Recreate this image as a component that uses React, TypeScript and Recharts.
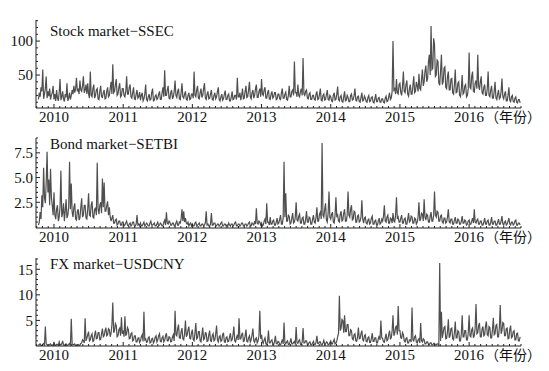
import { LineChart, Line, XAxis, YAxis } from "recharts";

// one value about every 4.5 days, from late 2009 to autumn 2016
const START_YEAR = 2009.775;
const STEP = 0.0125;

// Stock market - SSEC volatility
const ssec = [
  14, 24, 18, 32, 26, 58, 15, 22, 30, 48, 16, 26, 19, 30, 14, 20, 24, 34,
  // 2010
  14, 22, 12, 28, 16, 12, 24, 44, 13, 18, 26, 15, 11, 22, 17, 38, 12, 16, 24, 14,
  20, 28, 22, 34, 24, 30, 46, 26, 30, 22, 42, 28, 26, 34, 48, 24, 28, 36, 22, 38,
  22, 16, 55, 20, 18, 30, 36, 16, 20, 28, 30, 15, 14, 26, 34, 18, 17, 24, 28, 15,
  16, 26, 32, 18, 20, 30, 40, 22, 66, 24, 26, 36, 44, 20, 22, 32, 38, 18, 20, 30,
  // 2011
  30, 20, 18, 26, 48, 22, 22, 32, 36, 18, 16, 24, 32, 15, 14, 22, 28, 16, 18, 25,
  13, 20, 24, 12, 15, 22, 36, 14, 12, 18, 22, 13, 14, 24, 30, 12, 13, 19, 21, 14,
  16, 22, 26, 14, 14, 24, 32, 18, 57, 20, 20, 28, 34, 16, 15, 24, 28, 15, 18, 26,
  42, 20, 17, 26, 30, 15, 14, 24, 38, 18, 16, 22, 26, 14, 13, 20, 24, 14, 15, 22,
  // 2012
  22, 16, 55, 20, 18, 28, 34, 16, 15, 24, 30, 17, 20, 30, 38, 16, 14, 22, 26, 15,
  16, 22, 28, 14, 13, 20, 24, 15, 18, 26, 32, 14, 12, 18, 22, 13, 15, 22, 27, 14,
  14, 20, 22, 12, 12, 18, 26, 14, 15, 20, 20, 14, 46, 18, 18, 24, 13, 20, 30, 15,
  16, 26, 34, 17, 18, 28, 40, 18, 15, 24, 28, 16, 20, 30, 36, 17, 17, 26, 30, 18,
  // 2013
  44, 22, 20, 28, 32, 16, 16, 24, 28, 15, 14, 22, 26, 16, 18, 24, 24, 14, 15, 22,
  22, 15, 14, 24, 30, 16, 16, 22, 25, 14, 13, 20, 34, 18, 18, 26, 28, 20, 70, 24,
  24, 18, 36, 20, 18, 26, 30, 20, 75, 22, 20, 26, 28, 16, 15, 22, 24, 14, 14, 20,
  20, 14, 13, 22, 26, 14, 15, 22, 30, 13, 12, 20, 22, 13, 14, 21, 28, 14, 13, 20,
  // 2014
  18, 12, 11, 20, 24, 13, 14, 22, 33, 14, 12, 18, 20, 11, 10, 18, 26, 12, 13, 20,
  17, 11, 11, 20, 22, 13, 14, 20, 30, 13, 12, 18, 19, 11, 10, 17, 24, 12, 13, 19,
  16, 11, 10, 17, 20, 11, 12, 17, 18, 10, 9, 15, 22, 11, 11, 16, 17, 10, 10, 15,
  15, 10, 9, 16, 19, 11, 12, 18, 24, 14, 16, 26, 100, 28, 30, 22, 44, 24, 22, 36,
  // 2015
  38, 24, 20, 34, 55, 26, 24, 36, 42, 22, 19, 30, 36, 22, 22, 34, 48, 24, 26, 40,
  34, 26, 52, 30, 28, 44, 58, 34, 40, 56, 64, 40, 45, 70, 80, 50, 122, 58, 60, 104,
  95, 48, 50, 72, 70, 38, 35, 56, 80, 36, 40, 60, 62, 32, 30, 48, 55, 28, 28, 44,
  45, 24, 22, 36, 58, 24, 25, 38, 40, 20, 18, 30, 50, 22, 24, 34, 36, 18, 20, 30,
  // 2016
  83, 32, 30, 48, 55, 26, 25, 38, 42, 30, 80, 34, 28, 40, 48, 24, 22, 32, 36, 20,
  20, 30, 55, 20, 18, 28, 34, 16, 16, 26, 40, 16, 14, 22, 28, 15, 17, 26, 45, 18,
  15, 22, 26, 12, 12, 20, 32, 13, 11, 18, 20, 11, 10, 16, 18, 10, 9, 14, 14, 9,
];

// Bond market - SETBI volatility
const setbi = [
  0.2, 0.5, 1.5, 0.8, 3.2, 2.0, 6.0, 3.0, 2.4, 4.5, 7.6, 3.5, 4.8, 2.2, 5.9, 3.0, 2.2, 1.2,
  // 2010
  3.5, 1.2, 0.8, 1.8, 2.2, 0.6, 1.0, 2.0, 5.7, 1.0, 1.4, 2.4, 0.6, 1.6, 2.8, 0.9, 1.2, 2.0, 6.6, 1.8,
  4.4, 1.5, 1.0, 2.0, 2.4, 0.8, 0.7, 1.6, 1.8, 0.7, 0.9, 2.0, 2.9, 1.0, 1.2, 2.2, 2.2, 0.9, 0.8, 1.8,
  3.4, 1.2, 1.1, 2.2, 2.6, 1.0, 0.9, 1.8, 1.9, 1.2, 6.5, 1.8, 1.3, 2.2, 2.5, 1.4, 4.9, 2.0, 4.5, 1.6,
  1.6, 2.2, 2.6, 1.2, 2.0, 1.0, 0.6, 0.9, 1.2, 0.4, 0.4, 0.7, 0.8, 0.2, 0.3, 0.6, 0.6, 0.2, 0.2, 0.5,
  // 2011
  0.5, 0.1, 0.2, 0.4, 0.6, 0.2, 0.1, 0.3, 0.4, 0.1, 0.2, 0.5, 0.5, 0.1, 0.1, 0.3, 1.2, 0.2, 0.3, 0.1,
  0.4, 0.1, 0.1, 0.3, 0.5, 0.1, 0.2, 0.4, 0.3, 0.1, 0.1, 0.4, 0.6, 0.2, 0.2, 0.3, 0.4, 0.1, 0.1, 0.3,
  0.5, 0.1, 0.2, 0.4, 0.3, 0.1, 0.1, 0.5, 0.7, 0.2, 1.5, 0.4, 0.3, 0.6, 0.5, 0.2, 0.2, 0.4, 0.4, 0.1,
  0.1, 0.4, 0.6, 0.2, 0.2, 0.5, 0.4, 0.8, 1.8, 0.6, 1.6, 0.5, 0.9, 0.4, 0.3, 0.5, 0.1, 0.3, 0.4, 0.1,
  // 2012
  0.3, 0.1, 0.1, 0.4, 0.5, 0.1, 0.2, 0.3, 0.4, 0.1, 0.1, 0.3, 0.3, 0.1, 0.2, 0.4, 1.6, 0.2, 0.3, 0.1,
  0.1, 0.3, 1.4, 0.2, 0.2, 0.4, 0.4, 0.1, 0.1, 0.3, 0.3, 0.1, 0.2, 0.4, 0.5, 0.1, 0.1, 0.3, 0.3, 0.1,
  0.2, 0.1, 0.4, 0.2, 0.1, 0.3, 0.3, 0.1, 0.2, 0.4, 0.5, 0.1, 0.1, 0.3, 0.3, 0.1, 0.2, 0.4, 0.4, 0.1,
  0.1, 0.3, 0.3, 0.1, 0.2, 0.4, 0.5, 0.1, 0.1, 0.4, 0.3, 0.2, 0.6, 0.3, 1.9, 0.4, 0.3, 0.6, 0.5, 0.2,
  // 2013
  0.4, 0.1, 0.2, 0.6, 0.8, 0.3, 2.4, 0.5, 0.5, 0.2, 1.0, 0.3, 0.3, 0.6, 0.7, 0.2, 0.2, 0.5, 0.9, 0.3,
  0.4, 0.8, 1.2, 0.3, 0.3, 0.9, 6.6, 1.0, 3.4, 0.6, 0.6, 1.2, 1.1, 0.3, 0.4, 0.9, 1.4, 0.4, 0.5, 1.0,
  2.5, 0.7, 0.6, 1.1, 1.3, 0.4, 0.4, 0.9, 1.0, 0.3, 0.3, 0.8, 1.6, 0.5, 0.5, 1.0, 0.9, 0.3, 0.3, 0.8,
  1.2, 0.5, 0.4, 1.0, 2.0, 0.6, 0.6, 1.3, 1.5, 0.8, 8.5, 1.2, 1.0, 1.8, 2.4, 0.7, 0.5, 1.4, 3.6, 1.0,
  // 2014
  0.8, 1.3, 1.5, 0.5, 0.4, 1.2, 3.0, 1.0, 1.2, 0.6, 0.5, 1.3, 1.6, 0.6, 0.7, 1.4, 1.8, 0.6, 0.6, 1.2,
  3.6, 1.2, 1.0, 1.8, 2.2, 0.7, 0.8, 1.6, 1.5, 0.5, 0.5, 1.1, 1.2, 0.5, 0.6, 1.0, 2.7, 0.8, 0.4, 0.9,
  1.0, 0.4, 0.3, 0.7, 0.8, 0.3, 0.4, 0.9, 1.1, 0.3, 0.3, 0.6, 0.7, 0.2, 0.2, 0.6, 0.9, 0.3, 0.4, 0.8,
  0.6, 1.1, 2.2, 0.6, 0.5, 1.0, 1.2, 0.4, 0.4, 0.9, 0.8, 0.4, 1.4, 0.6, 0.5, 1.2, 3.0, 0.8, 1.0, 0.5,
  // 2015
  0.5, 0.9, 1.2, 0.4, 0.4, 0.8, 0.9, 0.3, 0.3, 0.8, 1.4, 0.5, 0.6, 1.1, 1.0, 0.4, 0.4, 0.9, 0.8, 0.3,
  0.5, 1.0, 2.5, 0.6, 0.8, 1.4, 1.3, 0.6, 2.8, 1.0, 0.7, 1.3, 1.2, 0.5, 0.5, 1.1, 1.5, 0.6, 0.6, 1.2,
  3.6, 1.2, 1.0, 1.6, 1.5, 0.6, 0.6, 1.1, 1.2, 0.5, 0.4, 0.9, 0.9, 0.4, 0.5, 1.0, 1.8, 0.5, 0.4, 0.8,
  0.8, 0.3, 0.3, 0.7, 1.0, 0.4, 0.4, 0.8, 0.7, 0.3, 0.3, 0.6, 1.1, 0.4, 0.4, 0.7, 0.6, 0.2, 0.3, 0.6,
  // 2016
  0.7, 0.3, 0.3, 0.6, 0.9, 0.4, 1.8, 0.5, 0.4, 0.7, 0.8, 0.3, 0.3, 0.6, 0.6, 0.2, 0.2, 0.5, 0.9, 0.3,
  0.3, 0.6, 0.7, 0.2, 0.2, 0.5, 1.0, 0.3, 0.3, 0.6, 0.6, 0.2, 0.2, 0.5, 0.8, 0.3, 0.3, 0.6, 1.1, 0.3,
  0.2, 0.5, 0.6, 0.2, 0.3, 0.6, 0.9, 0.3, 0.2, 0.5, 0.5, 0.2, 0.3, 0.6, 0.7, 0.2, 0.2, 0.4, 0.4, 0.2,
];

// FX market - USDCNY volatility
const usdcny = [
  0.1, 0.3, 0.4, 0.1, 0.1, 0.3, 0.5, 0.2, 3.8, 0.4, 0.3, 0.1, 0.1, 0.3, 0.4, 0.1, 0.2, 0.1,
  // 2010
  0.6, 0.2, 0.1, 0.3, 0.3, 0.1, 0.8, 0.2, 0.2, 0.4, 1.0, 0.2, 0.1, 0.3, 0.4, 0.1, 0.2, 0.3, 0.5, 0.1,
  5.3, 0.4, 0.2, 0.3, 0.4, 0.1, 0.1, 0.2, 0.3, 0.1, 0.2, 0.5, 0.6, 1.2, 1.0, 0.6, 5.4, 1.0, 1.5, 2.2,
  2.8, 1.0, 1.2, 2.0, 2.4, 0.9, 1.0, 2.2, 3.0, 1.4, 1.5, 2.6, 2.6, 1.2, 1.3, 2.4, 3.4, 1.8, 2.0, 3.0,
  3.6, 2.0, 2.2, 3.4, 3.2, 1.8, 2.5, 4.2, 8.5, 2.6, 3.0, 4.4, 4.0, 1.8, 2.0, 3.2, 3.5, 2.0, 5.6, 2.4,
  // 2011
  3.0, 1.8, 5.8, 2.0, 2.4, 3.6, 3.2, 1.4, 1.5, 2.4, 2.6, 1.0, 1.2, 2.0, 2.0, 0.8, 0.8, 1.5, 1.6, 0.7,
  1.0, 1.8, 2.2, 0.9, 6.7, 1.2, 1.4, 0.7, 0.8, 1.6, 1.8, 0.6, 0.7, 1.4, 1.5, 0.6, 0.9, 1.7, 2.0, 0.8,
  1.2, 2.0, 2.4, 0.9, 0.8, 1.6, 1.9, 0.8, 1.1, 2.0, 2.5, 1.0, 1.0, 1.8, 1.7, 0.8, 0.9, 1.8, 2.2, 1.0,
  6.9, 2.2, 2.0, 3.4, 4.2, 1.6, 1.5, 2.8, 3.5, 1.4, 1.2, 2.4, 5.0, 1.8, 2.2, 3.2, 3.8, 1.5, 1.4, 2.6,
  // 2012
  3.2, 1.2, 1.0, 2.6, 4.5, 1.4, 1.6, 2.8, 2.8, 1.0, 0.8, 2.2, 3.6, 1.2, 1.4, 2.6, 2.5, 0.9, 1.0, 2.2,
  3.0, 1.0, 0.9, 2.0, 2.4, 1.0, 1.2, 2.4, 4.0, 1.2, 0.8, 1.8, 2.0, 0.9, 1.1, 2.2, 2.6, 0.8, 0.7, 1.6,
  1.8, 0.8, 0.9, 1.8, 2.5, 1.0, 1.2, 2.2, 3.8, 1.0, 0.8, 1.6, 2.2, 1.2, 5.4, 1.4, 1.4, 2.2, 2.6, 0.9,
  1.0, 2.0, 3.2, 0.9, 0.8, 1.6, 2.0, 0.8, 1.2, 2.2, 3.4, 1.0, 0.7, 1.4, 1.6, 0.6, 1.0, 2.0, 6.9, 1.4,
  // 2013
  2.2, 0.8, 0.5, 1.2, 1.6, 0.4, 0.3, 0.9, 3.0, 0.6, 0.6, 1.0, 1.2, 0.3, 0.3, 0.8, 2.0, 0.5, 0.4, 0.9,
  0.8, 0.3, 0.2, 0.7, 1.3, 0.4, 4.6, 0.6, 0.4, 0.8, 1.0, 0.3, 0.3, 0.8, 1.5, 0.4, 0.4, 0.7, 0.9, 0.3,
  3.7, 0.6, 0.5, 1.0, 1.2, 0.3, 0.3, 0.8, 3.5, 0.6, 0.6, 1.0, 1.0, 0.3, 0.3, 0.7, 0.8, 0.2, 0.2, 0.6,
  0.9, 0.3, 0.3, 0.7, 2.0, 0.5, 0.5, 0.8, 0.8, 0.2, 0.2, 0.6, 1.1, 0.3, 0.4, 0.8, 0.7, 0.2, 0.3, 0.7,
  // 2014
  1.0, 0.4, 0.4, 0.9, 1.3, 0.4, 0.5, 1.0, 1.8, 2.5, 9.8, 3.0, 3.5, 5.2, 5.0, 2.6, 6.0, 2.8, 2.8, 4.2,
  4.2, 2.0, 2.0, 3.2, 3.0, 1.4, 1.2, 2.2, 2.4, 1.0, 0.9, 1.8, 3.6, 1.4, 1.5, 2.4, 3.0, 1.2, 1.0, 2.0,
  2.2, 0.9, 0.8, 1.6, 1.8, 0.7, 0.7, 1.5, 2.5, 0.9, 0.9, 1.6, 1.6, 0.6, 0.6, 1.4, 2.0, 1.2, 5.0, 1.6,
  1.5, 0.8, 0.7, 1.6, 2.4, 1.0, 1.2, 2.2, 3.0, 1.4, 1.6, 3.0, 6.0, 2.0, 2.5, 3.6, 4.0, 2.2, 7.8, 3.0,
  // 2015
  3.0, 1.6, 1.5, 2.6, 2.2, 1.0, 0.8, 1.5, 1.6, 0.6, 0.6, 1.2, 1.2, 0.8, 7.5, 1.2, 1.0, 1.8, 2.0, 0.8,
  0.6, 1.2, 1.4, 0.6, 4.5, 1.0, 0.8, 1.4, 1.2, 0.4, 0.4, 0.8, 0.8, 0.3, 0.3, 0.6, 0.6, 0.2, 0.2, 0.5,
  0.5, 0.2, 0.2, 0.4, 0.4, 0.1, 16.2, 1.0, 6.7, 1.6, 2.5, 3.6, 3.8, 1.4, 1.5, 2.8, 5.2, 1.6, 2.0, 3.4,
  3.5, 1.4, 1.2, 2.6, 4.8, 1.6, 1.6, 3.0, 2.8, 1.0, 1.0, 2.4, 6.0, 1.8, 1.8, 3.0, 3.0, 1.2, 1.2, 2.6,
  // 2016
  6.0, 2.0, 1.8, 3.2, 3.5, 1.6, 2.0, 3.6, 8.2, 2.4, 2.6, 4.0, 4.5, 1.8, 1.8, 3.4, 3.8, 2.0, 2.2, 4.0,
  4.8, 2.2, 2.0, 3.8, 3.6, 1.6, 1.6, 3.2, 5.5, 2.2, 2.4, 4.0, 4.2, 1.8, 1.8, 3.6, 8.0, 2.4, 3.0, 4.6,
  4.4, 2.0, 2.0, 3.4, 3.5, 1.4, 1.5, 3.2, 4.0, 1.6, 1.8, 2.8, 3.0, 1.2, 1.2, 2.4, 2.5, 1.0, 1.0, 1.8,
];

const X_DOMAIN: [number, number] = [2009.74, 2016.75];
const SERIF = '"Liberation Serif", "Times New Roman", serif';
const CJK = '"Noto Sans CJK SC", sans-serif';
const FONT_SIZE = 15;
const LINE_COLOR = "#4f4f4f";

const toRows = (vals: number[]) =>
  vals.map((v, i) => ({ t: START_YEAR + i * STEP, v }));

const monthTicks: number[] = [];
for (let y = 2009; y <= 2016; y++) {
  for (let m = 0; m < 12; m++) {
    const t = y + m / 12;
    if (t >= X_DOMAIN[0] && t <= X_DOMAIN[1]) monthTicks.push(t);
  }
}

function XTick(props: any) {
  const { x, y, payload } = props;
  const v = payload.value as number;
  const major = Math.abs(v - Math.round(v)) < 1e-6;
  return (
    <g>
      <line x1={x} x2={x} y1={y} y2={y - (major ? 4 : 2)} stroke="#222" />
      {major && (
        <text x={x} y={y + 14} textAnchor="middle" fontFamily={SERIF} fontSize={FONT_SIZE} fill="#111">
          {Math.round(v)}
        </text>
      )}
      {major && Math.round(v) === 2016 && (
        <text x={x + 16} y={y + 14} textAnchor="start" fontFamily={CJK} fontSize={FONT_SIZE - 1} fill="#111">
          （年份）
        </text>
      )}
    </g>
  );
}

function makeYTick(majors: number[], fmt: (v: number) => string) {
  return function YTick(props: any) {
    const { x, y, payload } = props;
    const v = payload.value as number;
    const major = majors.some((m) => Math.abs(m - v) < 1e-6);
    return (
      <g>
        <line x1={x} x2={x + (major ? 4 : 2)} y1={y} y2={y} stroke="#222" />
        {major && (
          <text x={x - 3} y={y} dy="0.35em" textAnchor="end" fontFamily={SERIF} fontSize={FONT_SIZE} fill="#111">
            {fmt(v)}
          </text>
        )}
      </g>
    );
  };
}

interface PanelProps {
  top: number;
  height: number;
  marginTop: number;
  xAxisHeight: number;
  values: number[];
  domain: [number, number];
  yTicks: number[];
  majors: number[];
  fmt: (v: number) => string;
  title: string;
  titleTop: number;
}

function Panel(p: PanelProps) {
  const YTick = makeYTick(p.majors, p.fmt);
  return (
    <>
      <div style={{ position: "absolute", left: 0, top: p.top }}>
        <LineChart
          width={549}
          height={p.height}
          data={toRows(p.values)}
          margin={{ top: p.marginTop, right: 28, left: 0, bottom: 0 }}
        >
          <XAxis
            dataKey="t"
            type="number"
            domain={X_DOMAIN}
            allowDataOverflow
            ticks={monthTicks}
            interval={0}
            tickSize={0}
            tickMargin={0}
            tickLine={false}
            height={p.xAxisHeight}
            axisLine={{ stroke: "#222" }}
            tick={<XTick />}
          />
          <YAxis
            type="number"
            domain={p.domain}
            allowDataOverflow
            ticks={p.yTicks}
            interval={0}
            width={36}
            tickSize={0}
            tickMargin={0}
            tickLine={false}
            axisLine={{ stroke: "#222" }}
            tick={<YTick />}
          />
          <Line
            type="linear"
            dataKey="v"
            stroke={LINE_COLOR}
            strokeWidth={1.2}
            dot={false}
            isAnimationActive={false}
          />
        </LineChart>
      </div>
      <div
        style={{
          position: "absolute",
          left: 50,
          top: p.titleTop,
          fontFamily: SERIF,
          fontSize: FONT_SIZE,
          lineHeight: 1,
          color: "#111",
          whiteSpace: "nowrap",
        }}
      >
        {p.title}
      </div>
    </>
  );
}

const range = (a: number, b: number, s: number) => {
  const out: number[] = [];
  for (let v = a; v <= b + 1e-9; v += s) out.push(Math.round(v * 100) / 100);
  return out;
};

export default function App() {
  return (
    <div
      style={{
        position: "absolute",
        left: 0,
        top: 0,
        width: 549,
        height: 371,
        background: "#fff",
        overflow: "hidden",
      }}
    >
      <Panel
        top={0}
        height={125}
        marginTop={20}
        xAxisHeight={17}
        values={ssec}
        domain={[1.5, 131]}
        yTicks={range(10, 130, 10)}
        majors={[50, 100]}
        fmt={(v) => String(v)}
        title="Stock market−SSEC"
        titleTop={24}
      />
      <Panel
        top={120}
        height={125}
        marginTop={18}
        xAxisHeight={17}
        values={setbi}
        domain={[-0.1, 9]}
        yTicks={range(0.5, 9, 0.5)}
        majors={[2.5, 5, 7.5]}
        fmt={(v) => v.toFixed(1)}
        title="Bond market−SETBI"
        titleTop={137}
      />
      <Panel
        top={240}
        height={131}
        marginTop={18}
        xAxisHeight={25}
        values={usdcny}
        domain={[0, 17.2]}
        yTicks={range(1, 17, 1)}
        majors={[5, 10, 15]}
        fmt={(v) => String(v)}
        title="FX market−USDCNY"
        titleTop={257}
      />
    </div>
  );
}
